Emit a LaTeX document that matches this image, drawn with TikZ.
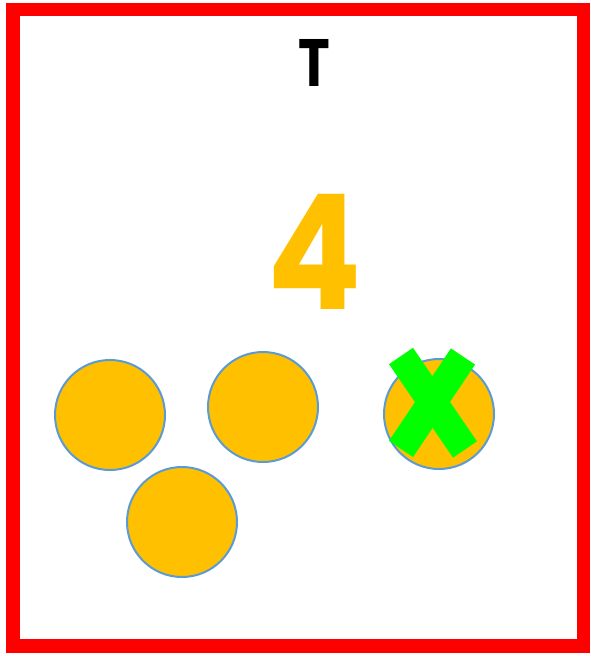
\documentclass[tikz,border=0pt]{standalone}
\usepackage{fontspec}
\newfontfamily\geo{Poppins}
\definecolor{frame}{RGB}{255,0,0}
\definecolor{gold}{RGB}{255,192,0}
\definecolor{rim}{RGB}{91,155,213}
\definecolor{xgreen}{RGB}{0,255,0}
\tikzset{
  coin/.style={circle,draw=rim,line width=2pt,fill=gold,minimum size=110pt,inner sep=0pt},
  xbar/.style={xgreen,line width=29pt,line cap=butt}
}
\begin{document}
\begin{tikzpicture}[x=1pt,y=-1pt]
\useasboundingbox (0,0) rectangle (590,656);
\draw[frame,line width=13.5pt] (13,9.5) rectangle (583.5,646);
\node[inner sep=0pt,font=\geo\bfseries\fontsize{67}{67}\selectfont] (t) at (314.5,63) {\scalebox{0.8}[1]{T}};
\node[inner sep=0pt,text=gold,font=\geo\bfseries\fontsize{160}{160}\selectfont] (four) at (314.5,252) {\scalebox{0.87}[1]{4}};
\node[coin] (c1) at (110,415) {};
\node[coin] (c2) at (263,407) {};
\node[coin] (c3) at (182,522) {};
\node[coin] (c4) at (439,414) {};
\coordinate (a1) at (401,356);
\coordinate (a2) at (465,449.5);
\coordinate (b1) at (463,356.5);
\coordinate (b2) at (401,449);
\draw[xbar] (a1) -- (a2);
\draw[xbar] (b1) -- (b2);
\end{tikzpicture}
\end{document}
